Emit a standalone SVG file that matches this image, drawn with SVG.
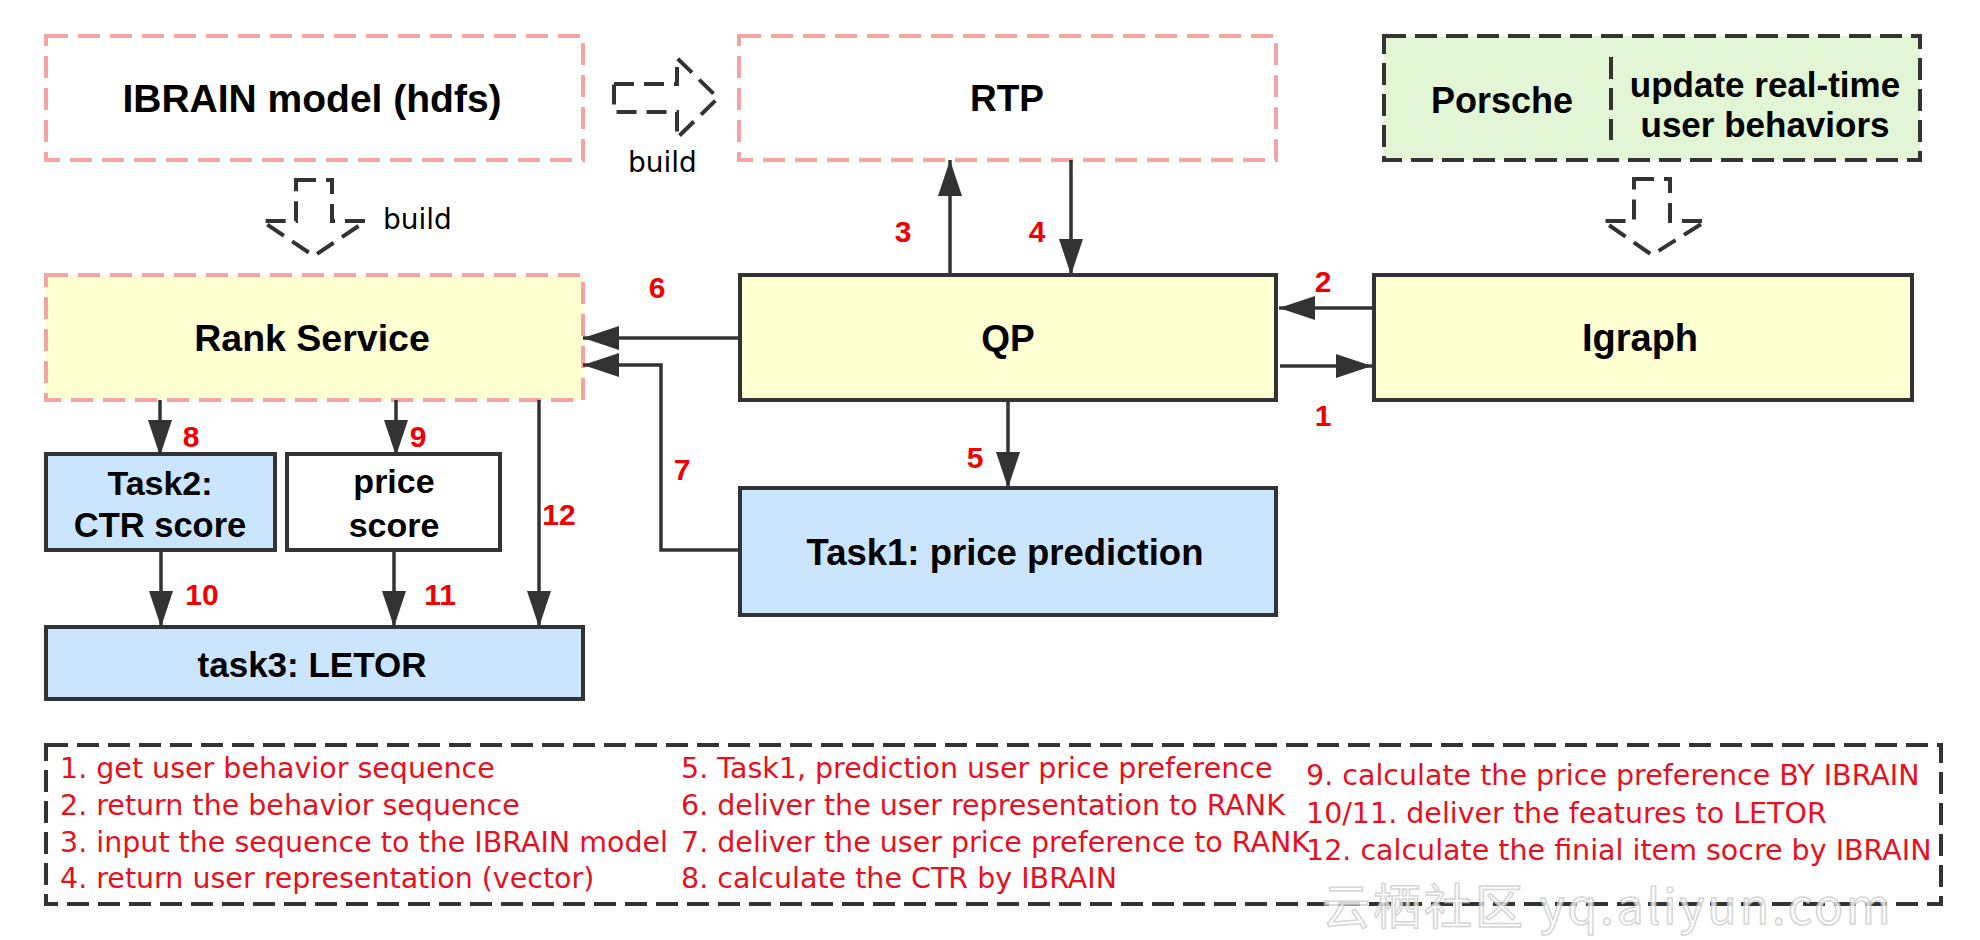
<svg xmlns="http://www.w3.org/2000/svg" width="1980" height="940" viewBox="0 0 1980 940">
<style>
.pk{fill:#fff;stroke:#F6A3A3;stroke-width:4;stroke-dasharray:22 10}
.pky{fill:#FFFFD2;stroke:#F6A3A3;stroke-width:4;stroke-dasharray:22 10}
.sy{fill:#FFFFD2;stroke:#333;stroke-width:4}
.sb{fill:#CCE5FF;stroke:#333;stroke-width:4}
.sw{fill:#fff;stroke:#333;stroke-width:4}
.dg{fill:#E2F6D5;stroke:#333;stroke-width:4;stroke-dasharray:22 9}
.dd{fill:none;stroke:#333;stroke-width:4;stroke-dasharray:22 9}
.ha{fill:none;stroke:#333;stroke-width:4;stroke-dasharray:20 10}
.t{font-family:"Liberation Sans",Arial,sans-serif;font-weight:bold;fill:#000;text-anchor:middle}
.n{font-family:"Liberation Sans",Arial,sans-serif;font-weight:bold;font-size:30px;fill:#F00000;text-anchor:middle}
.lg{font-family:"DejaVu Sans",sans-serif;font-size:28.5px;fill:#E8101E}
.bd{font-family:"DejaVu Sans",sans-serif;font-size:28px;fill:#000}
.c{fill:none;stroke:#333;stroke-width:3.5}
</style>
<defs>
<marker id="ah" markerUnits="userSpaceOnUse" markerWidth="36" markerHeight="24" refX="36" refY="12" orient="auto">
<path d="M0,0 L36,12 L0,24 Z" fill="#333"/>
</marker>
</defs>

<g id="ibrain">
<rect class="pk" x="46" y="36" width="537" height="124"/>
<text class="t" x="312" y="112" font-size="39">IBRAIN model (hdfs)</text>
</g>
<g id="rtp">
<rect class="pk" x="739" y="36" width="537" height="124"/>
<text class="t" x="1007" y="111" font-size="37">RTP</text>
</g>
<g id="porsche">
<rect class="dg" x="1384" y="36" width="536" height="124"/>
<line class="dd" x1="1611" y1="57" x2="1611" y2="140"/>
<text class="t" x="1502" y="113" font-size="36">Porsche</text>
<text class="t" x="1765" y="97" font-size="35">update real-time</text>
<text class="t" x="1765" y="137" font-size="35">user behaviors</text>
</g>
<g id="rank">
<rect class="pky" x="46" y="275" width="537" height="125"/>
<text class="t" x="312" y="351" font-size="37.5">Rank Service</text>
</g>
<g id="qp">
<rect class="sy" x="740" y="275" width="536" height="125"/>
<text class="t" x="1008" y="351" font-size="37">QP</text>
</g>
<g id="igraph">
<rect class="sy" x="1374" y="275" width="538" height="125"/>
<text class="t" x="1640" y="351" font-size="38">Igraph</text>
</g>
<g id="task1">
<rect class="sb" x="740" y="488" width="536" height="127"/>
<text class="t" x="1005" y="565" font-size="36.5">Task1: price prediction</text>
</g>
<g id="task2">
<rect class="sb" x="46" y="454" width="229" height="96"/>
<text class="t" x="160" y="495" font-size="34">Task2:</text>
<text class="t" x="160" y="537" font-size="34.5">CTR score</text>
</g>
<g id="price">
<rect class="sw" x="287" y="454" width="213" height="96"/>
<text class="t" x="394" y="493" font-size="34">price</text>
<text class="t" x="394" y="537" font-size="34">score</text>
</g>
<g id="task3">
<rect class="sb" x="46" y="627" width="537" height="72"/>
<text class="t" x="312" y="677" font-size="35">task3: LETOR</text>
</g>

<g id="build-arrows">
<path class="ha" d="M614,84 L677,84 L677,58 L718,98 L677,138 L677,112 L614,112 Z"/>
<text class="bd" x="628" y="172">build</text>
<path class="ha" d="M296,180 L332,180 L332,221 L366,221 L314,256 L262,221 L296,221 Z"/>
<text class="bd" x="383" y="229">build</text>
<path class="ha" d="M1634,179 L1670,179 L1670,221 L1706,221 L1652,255 L1603,221 L1634,221 Z"/>
</g>

<g id="connectors">
<line class="c" x1="950" y1="275" x2="950" y2="160" marker-end="url(#ah)"/>
<line class="c" x1="1071" y1="160" x2="1071" y2="275" marker-end="url(#ah)"/>
<line class="c" x1="740" y1="338" x2="583" y2="338" marker-end="url(#ah)"/>
<polyline class="c" points="740,550 661,550 661,365 583,365" marker-end="url(#ah)"/>
<line class="c" x1="1008" y1="400" x2="1008" y2="488" marker-end="url(#ah)"/>
<line class="c" x1="1374" y1="308" x2="1279" y2="308" marker-end="url(#ah)"/>
<line class="c" x1="1280" y1="366" x2="1372" y2="366" marker-end="url(#ah)"/>
<line class="c" x1="160" y1="400" x2="160" y2="456" marker-end="url(#ah)"/>
<line class="c" x1="396" y1="400" x2="396" y2="456" marker-end="url(#ah)"/>
<line class="c" x1="539" y1="400" x2="539" y2="627" marker-end="url(#ah)"/>
<line class="c" x1="161" y1="550" x2="161" y2="627" marker-end="url(#ah)"/>
<line class="c" x1="394" y1="550" x2="394" y2="627" marker-end="url(#ah)"/>
</g>

<g id="labels">
<text class="n" x="903" y="242">3</text>
<text class="n" x="1037" y="242">4</text>
<text class="n" x="657" y="298">6</text>
<text class="n" x="1323" y="292">2</text>
<text class="n" x="1323" y="426">1</text>
<text class="n" x="975" y="468">5</text>
<text class="n" x="682" y="480">7</text>
<text class="n" x="191" y="447">8</text>
<text class="n" x="418" y="447">9</text>
<text class="n" x="559" y="525">12</text>
<text class="n" x="202" y="605">10</text>
<text class="n" x="440" y="605">11</text>
</g>

<g id="legend">
<rect class="dd" x="46" y="745" width="1895" height="159"/>
<text class="lg" x="60" y="778">1. get user behavior sequence</text>
<text class="lg" x="60" y="815">2. return the behavior sequence</text>
<text class="lg" x="60" y="852">3. input the sequence to the IBRAIN model</text>
<text class="lg" x="60" y="888">4. return user representation (vector)</text>
<text class="lg" x="681" y="778">5. Task1, prediction user price preference</text>
<text class="lg" x="681" y="815">6. deliver the user representation to RANK</text>
<text class="lg" x="681" y="852">7. deliver the user price preference to RANK</text>
<text class="lg" x="681" y="888">8. calculate the CTR by IBRAIN</text>
<text class="lg" x="1306" y="785">9. calculate the price preference BY IBRAIN</text>
<text class="lg" x="1306" y="823">10/11. deliver the features to LETOR</text>
<text class="lg" x="1306" y="860">12. calculate the finial item socre by IBRAIN</text>
</g>

<text x="1322" y="924" font-family="'Noto Sans CJK SC','Liberation Sans',sans-serif" font-size="48" letter-spacing="3" fill="#ffffff" stroke="#cccccc" stroke-width="1.5" opacity="0.8">云栖社区 yq.aliyun.com</text>
</svg>
